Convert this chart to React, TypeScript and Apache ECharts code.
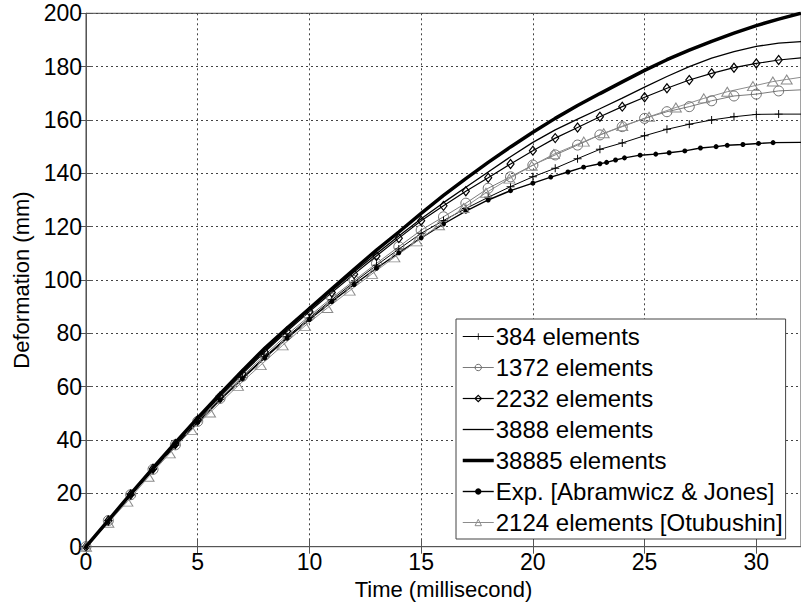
import React, { useEffect, useRef } from "react";
import * as echarts from "echarts";

// ---------- data ----------
const T_INT = [0, 1, 2, 3, 4, 5, 6, 7, 8, 9, 10, 11, 12, 13, 14, 15, 16, 17, 18, 19, 20, 21, 22, 23, 24, 25, 26, 27, 28, 29, 30, 31, 32];

const V_384 = [0, 9.7, 19.4, 28.9, 38, 46.8, 55.3, 63.4, 71.2, 78.7, 85.8, 92.6, 99.2, 105.5, 111.6, 117.5, 122.3, 126.8, 131, 135, 138.7, 141.9, 145.5, 149, 151.4, 154.1, 156.5, 158.4, 160, 161.2, 162.1, 162.2, 162.2];
const V_1372 = [0, 9.8, 19.5, 29, 38.2, 47, 55.6, 63.9, 71.9, 79.5, 86.5, 93.3, 99.8, 106.2, 112.5, 118.7, 123.7, 128.8, 134.4, 138.7, 143.1, 146.9, 150.6, 154.4, 157.5, 160.6, 163.1, 165, 167.2, 169, 169.7, 170.9, 171.3];
const V_2232 = [0, 9.8, 19.6, 29.2, 38.5, 47.5, 56.3, 64.8, 73, 80.8, 88.2, 95.3, 102.2, 109, 115.7, 122.2, 127.8, 133.3, 138.3, 143.5, 148.5, 153.2, 157.2, 161.2, 165, 168.5, 171.9, 175, 177.5, 179.6, 181.2, 182.5, 183.3];
const V_3888 = [0, 9.9, 19.7, 29.4, 38.8, 47.9, 56.8, 65.3, 73.5, 81.3, 88.8, 96, 103, 109.8, 116.5, 123, 129, 134.8, 140.5, 146.2, 151.6, 156.3, 160.3, 164.2, 168.2, 172.3, 176.3, 180, 183.2, 185.6, 187.6, 188.8, 189.4];
const V_38885 = [0, 9.9, 19.8, 29.5, 39, 48.3, 57.3, 66, 74.4, 82, 89.3, 96.7, 104, 111.2, 118, 125, 131.7, 138, 144.1, 149.9, 155.4, 160.6, 165.4, 169.9, 174.3, 178.6, 182.6, 186.2, 189.5, 192.6, 195.4, 197.8, 200];

const T_EXP = [0, 1, 2, 3, 4, 5, 6, 7, 8, 9, 10, 11, 12, 13, 14, 15, 16, 17, 18, 19, 20, 20.8, 21.57, 22.27, 23, 23.3, 23.7, 24.1, 24.8, 25.5, 26.1, 26.8, 27.5, 28.2, 28.7, 29.4, 30.1, 30.75, 32];
const V_EXP = [0, 9.7, 19.4, 28.8, 37.9, 46.6, 55, 63, 70.8, 78.2, 85.2, 91.9, 98.3, 104.4, 110.2, 115.8, 121, 125.8, 130, 133.5, 136.3, 138.6, 140.5, 142.3, 143.6, 144.1, 145, 145.8, 146.8, 147.2, 147.7, 148.4, 149.5, 150, 150.5, 150.8, 151.2, 151.5, 151.6];

const T_OTU = [0, 1, 1.85, 2.8, 3.75, 4.72, 5.55, 6.8, 7.82, 8.8, 9.8, 10.8, 11.8, 12.8, 13.8, 14.8, 15.8, 16.9, 17.9, 18.95, 19.95, 20.94, 22.28, 23.17, 24, 25.2, 26.4, 27.65, 28.7, 29.85, 30.74, 31.36, 32];
const V_OTU = [0, 9, 16.9, 26.2, 35, 43.8, 50.3, 60.3, 68.1, 75.5, 82.8, 89.5, 96, 102.3, 108.5, 114.5, 120.5, 127, 132.7, 138, 142.8, 147.2, 151.9, 155, 157.7, 161.2, 164.7, 168.1, 170.6, 172.7, 174.4, 175.2, 176];

const SERIES_NAMES = [
  "384 elements",
  "1372 elements",
  "2232 elements",
  "3888 elements",
  "38885 elements",
  "Exp. [Abramwicz & Jones]",
  "2124 elements [Otubushin]",
];

const X_TICKS = [0, 5, 10, 15, 20, 25, 30];
const Y_TICKS = [0, 20, 40, 60, 80, 100, 120, 140, 160, 180, 200];

// ---------- helpers ----------
const FONT = "'Liberation Sans', Arial, Helvetica, sans-serif";
const PLUS = "path://M4.4,0H5.6V4.4H10V5.6H5.6V10H4.4V5.6H0V4.4H4.4Z";
const CLEAR = "rgba(0,0,0,0)";

const STYLE_384 = { color: "#000", borderWidth: 0 };
const STYLE_1372 = { color: CLEAR, borderColor: "#6e6e6e", borderWidth: 1 };
const STYLE_2232 = { color: CLEAR, borderColor: "#000", borderWidth: 1.2 };
const STYLE_NONE = { color: CLEAR, borderColor: CLEAR, borderWidth: 0 };
const STYLE_EXP = { color: "#000", borderWidth: 0 };
const STYLE_OTU = { color: CLEAR, borderColor: "#8c8c8c", borderWidth: 1 };

const LINE_384 = { color: "#000", width: 1 };
const LINE_1372 = { color: "#7a7a7a", width: 1 };
const LINE_2232 = { color: "#000", width: 1.2 };
const LINE_3888 = { color: "#000", width: 1.3 };
const LINE_38885 = { color: "#000", width: 3.5 };
const LINE_EXP = { color: "#000", width: 1.4 };
const LINE_OTU = { color: "#8c8c8c", width: 1 };

function pairs(ts: number[], vs: number[]) {
  return ts.map((t, i) =>
    t >= 32 ? { value: [t, vs[i]], symbol: "none" } : [t, vs[i]]
  );
}

function lineSeries(
  name: string,
  data: any[],
  lineStyle: any,
  symbol: string,
  symbolSize: any,
  itemStyle: any,
  z: number
) {
  return {
    name,
    type: "line",
    data,
    symbol,
    symbolSize,
    showSymbol: symbol !== "none",
    lineStyle,
    itemStyle,
    emphasis: { disabled: true },
    z,
  };
}

export default function App() {
  const ref = useRef<HTMLDivElement>(null);
  useEffect(() => {
    const chart = echarts.init(ref.current!, null, { renderer: "svg" });
    const axisCommon = {
      type: "value",
      axisLine: { show: true, lineStyle: { color: "#555", width: 1 } },
      axisTick: { show: true, inside: true, length: 7, lineStyle: { color: "#555" } },
    };
    const legendStyles = [STYLE_384, STYLE_1372, STYLE_2232, STYLE_NONE, STYLE_NONE, STYLE_EXP, STYLE_OTU];
    const legendLines = [LINE_384, LINE_1372, LINE_2232, LINE_3888, LINE_38885, LINE_EXP, LINE_OTU];
    const option: any = {
      animation: false,
      backgroundColor: "#fff",
      textStyle: { fontFamily: FONT },
      grid: {
        left: 86,
        top: 13.3,
        right: -4,
        bottom: 59.3,
        show: true,
        borderColor: "#444",
        borderWidth: 1,
        backgroundColor: "#fff",
      },
      legend: {
        data: SERIES_NAMES.map((n, i) => ({
          name: n,
          itemStyle: legendStyles[i],
          lineStyle: legendLines[i],
        })),
        orient: "vertical",
        left: 456,
        top: 319,
        itemWidth: 31,
        itemHeight: 8,
        itemGap: 0,
        padding: [2, 3, 1, 5],
        backgroundColor: "#fff",
        borderColor: "#444",
        borderWidth: 1,
        borderRadius: 0,
        selectedMode: false,
        textStyle: {
          fontFamily: FONT,
          fontSize: 24,
          color: "#000",
          lineHeight: 31,
          padding: [0, 0, 0, -3],
        },
      },
      xAxis: [
        {
          ...axisCommon,
          min: 0,
          max: 32,
          interval: 5,
          name: "Time (millisecond)",
          nameLocation: "middle",
          nameGap: 28,
          nameTextStyle: { fontFamily: FONT, fontSize: 22, color: "#000" },
          axisLabel: {
            margin: 4,
            fontFamily: FONT,
            fontSize: 23,
            color: "#000",
            showMaxLabel: false,
            formatter: (v: number) => (X_TICKS.includes(v) ? String(v) : ""),
          },
          splitLine: { show: true, lineStyle: { color: "#444", type: [2, 3], width: 1 } },
        },
        {
          ...axisCommon,
          position: "top",
          min: 0,
          max: 32,
          interval: 5,
          axisLabel: { show: false },
          splitLine: { show: false },
        },
      ],
      yAxis: [
        {
          ...axisCommon,
          min: 0,
          max: 200,
          interval: 20,
          name: "Deformation (mm)",
          nameLocation: "middle",
          nameGap: 45,
          nameRotate: 90,
          nameTextStyle: { fontFamily: FONT, fontSize: 22, color: "#000" },
          axisLabel: {
            margin: 4,
            fontFamily: FONT,
            fontSize: 23,
            color: "#000",
            formatter: (v: number) => (Y_TICKS.includes(v) ? String(v) : ""),
          },
          splitLine: { show: true, lineStyle: { color: "#444", type: [2, 3], width: 1 } },
        },
        {
          ...axisCommon,
          position: "right",
          min: 0,
          max: 200,
          interval: 20,
          axisLabel: { show: false },
          splitLine: { show: false },
        },
      ],
      series: [
        lineSeries(SERIES_NAMES[0], pairs(T_INT, V_384), LINE_384, PLUS, 8, STYLE_384, 3),
        lineSeries(SERIES_NAMES[1], pairs(T_INT, V_1372), LINE_1372, "circle", 10, STYLE_1372, 3),
        lineSeries(SERIES_NAMES[2], pairs(T_INT, V_2232), LINE_2232, "diamond", [7, 9], STYLE_2232, 3),
        lineSeries(SERIES_NAMES[3], pairs(T_INT, V_3888), LINE_3888, "none", 0, STYLE_NONE, 3),
        lineSeries(SERIES_NAMES[4], pairs(T_INT, V_38885), LINE_38885, "none", 0, STYLE_NONE, 4),
        lineSeries(SERIES_NAMES[5], pairs(T_EXP, V_EXP), LINE_EXP, "circle", 5, STYLE_EXP, 3),
        lineSeries(SERIES_NAMES[6], pairs(T_OTU, V_OTU), LINE_OTU, "triangle", [11, 9], STYLE_OTU, 3),
      ],
    };
    chart.setOption(option);
    return () => chart.dispose();
  }, []);
  return (
    <div
      ref={ref}
      style={{ position: "fixed", left: 0, top: 0, width: 801, height: 606, background: "#fff" }}
    />
  );
}
